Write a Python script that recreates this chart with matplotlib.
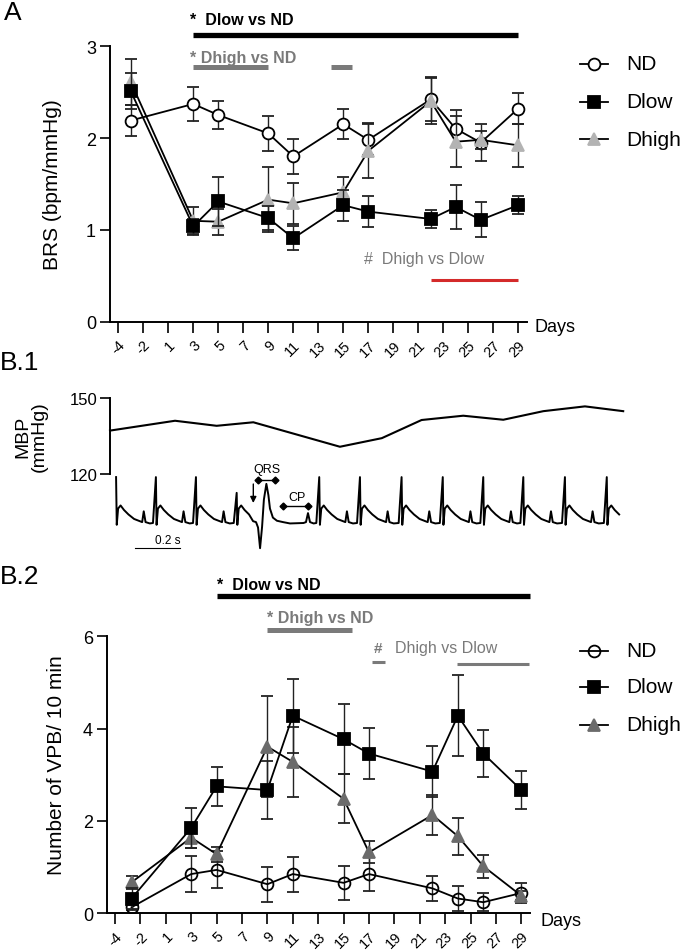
import numpy as np
import matplotlib
matplotlib.use("Agg")
import matplotlib.pyplot as plt

plt.rcParams["font.family"] = ["Liberation Sans", "DejaVu Sans"]

# =========================
# Data
# =========================

TICK_DAYS = [-4, -2, 1, 3, 5, 7, 9, 11, 13, 15, 17, 19, 21, 23, 25, 27, 29]
TICK_LABELS = [str(d) for d in TICK_DAYS]

# Panel A: baroreflex sensitivity
DAYS_A = [-3, 3, 5, 9, 11, 15, 17, 22, 24, 26, 29]
BRS_ND = [2.19, 2.37, 2.25, 2.05, 1.80, 2.15, 1.98, 2.42, 2.10, 1.95, 2.32]
BRS_ND_ERR = [0.17, 0.18, 0.15, 0.19, 0.19, 0.16, 0.17, 0.24, 0.20, 0.20, 0.17]
BRS_DLOW = [2.51, 1.04, 1.31, 1.13, 0.91, 1.27, 1.20, 1.12, 1.25, 1.11, 1.27]
BRS_DLOW_ERR = [0.20, 0.08, 0.27, 0.13, 0.13, 0.17, 0.17, 0.10, 0.24, 0.19, 0.10]
BRS_DHIGH = [2.61, 1.10, 1.09, 1.33, 1.29, 1.41, 1.86, 2.40, 1.96, 1.98, 1.92]
BRS_DHIGH_ERR = [0.25, 0.15, 0.14, 0.35, 0.22, 0.17, 0.30, 0.25, 0.28, 0.10, 0.23]

# Panel B.1: mean blood pressure (s, mmHg) and ECG trace
MBP_T = [0.0, 0.289, 0.474, 0.637, 1.022, 1.208, 1.385, 1.570, 1.748, 1.926, 2.111, 2.281]
MBP_VAL = [137.2, 141.1, 139.1, 140.5, 130.8, 134.2, 141.4, 143.1, 141.5, 144.9, 146.8, 144.9]

R_TIMES = [0.027, 0.204, 0.382, 0.563, 0.930, 1.111, 1.296, 1.479, 1.659, 1.837, 2.022, 2.208]
R_AMPS = [1.0, 1.0, 1.0, 0.65, 1.0, 1.0, 1.0, 1.0, 1.0, 1.0, 1.0, 1.0]
BEAT_OFFSET = [-0.013, 0.0, 0.003, 0.009, 0.020, 0.035, 0.055, 0.080, 0.105, 0.116, 0.123, 0.131, 0.150, 0.170]
BEAT_SHAPE = [-0.02, 1.0, -0.06, 0.30, 0.37, 0.27, 0.17, 0.07, 0.02, 0.0, 0.24, 0.0, -0.03, -0.02]
VPB_T = [0.636, 0.649, 0.658, 0.667, 0.676, 0.684, 0.695, 0.704, 0.711, 0.724, 0.742, 0.769,
         0.800, 0.860, 0.871, 0.880, 0.889, 0.905]
VPB_VAL = [0.02, 0.0, -0.12, -0.58, -0.10, 0.50, 0.85, 0.60, 0.30, 0.10, 0.03, 0.0,
           -0.03, -0.02, 0.0, 0.20, 0.0, -0.03]
ECG_END = 2.281

# Panel B.2: ventricular premature beats
DAYS_B = [-2.7, 3, 5, 9, 11, 15, 17, 22, 24, 26, 29]
VPB_ND = [0.13, 0.85, 0.94, 0.63, 0.85, 0.66, 0.85, 0.54, 0.32, 0.24, 0.44]
VPB_ND_ERR = [0.05, 0.39, 0.40, 0.38, 0.38, 0.37, 0.37, 0.27, 0.27, 0.20, 0.22]
VPB_DLOW = [0.32, 1.85, 2.75, 2.67, 4.28, 3.77, 3.46, 3.07, 4.28, 3.46, 2.67]
VPB_DLOW_ERR = [0.22, 0.44, 0.42, 0.62, 0.80, 0.76, 0.56, 0.56, 0.88, 0.50, 0.42]
VPB_DHIGH = [0.67, 1.64, 1.28, 3.61, 3.28, 2.48, 1.32, 2.13, 1.67, 1.02, 0.38]
VPB_DHIGH_ERR = [0.14, 0.22, 0.16, 1.10, 0.76, 0.53, 0.24, 0.43, 0.40, 0.25, 0.10]

# =========================
# Helpers
# =========================

W, H = 685, 953
GRAY = "#7a7a7a"
LIGHT_TRI = "#b3b3b3"
DARK_TRI = "#6b6b6b"
RED = "#d42a2a"


def px_rect(x0, y_top, x1, y_bot):
    """Axes rectangle from pixel edges (origin top-left)."""
    return [x0 / W, 1 - y_bot / H, (x1 - x0) / W, (y_bot - y_top) / H]


def pos(day):
    """The day axis is categorical: map a day onto the tick index scale."""
    d = np.asarray(day, dtype=float)
    return np.where(d > 29, 16 + (d - 29) / 2, np.interp(d, TICK_DAYS, np.arange(len(TICK_DAYS))))


def style_axes(ax):
    for side in ["top", "right"]:
        ax.spines[side].set_visible(False)
    for side in ["left", "bottom"]:
        ax.spines[side].set_linewidth(1.4)
    ax.tick_params(width=1.2, length=7, labelsize=13, pad=3)
    ax.tick_params(axis="x", length=8, pad=3)
    ax.set_xticks(np.arange(len(TICK_DAYS)))
    ax.set_xticklabels(TICK_LABELS, rotation=45, ha="right", va="top",
                       rotation_mode="anchor", fontsize=10.5)
    ax.patch.set_alpha(0)


def series(ax, days, vals, errs, marker, ms, face, edge, z):
    ax.errorbar(pos(days), vals, yerr=errs, color="k", lw=1.3,
                marker=marker, ms=ms, mfc=face, mec=edge, mew=1.3,
                ecolor="#222222", elinewidth=1.0, capsize=4.5, capthick=1.0,
                zorder=z)


def sig_bar(ax, d0, d1, y, color, lw):
    ax.plot(pos([d0, d1]), [y, y], color=color, lw=lw, solid_capstyle="butt",
            clip_on=False)


def ecg_trace():
    t_all, v_all = [], []
    for i, (r, amp) in enumerate(zip(R_TIMES, R_AMPS)):
        nxt = R_TIMES[i + 1] if i + 1 < len(R_TIMES) else ECG_END + 0.013
        if i == 3:
            nxt = VPB_T[0] + 0.013
        for off, v in zip(BEAT_OFFSET, BEAT_SHAPE):
            if i == 0 and off < 0:
                continue
            if off < nxt - r - 0.013 + 1e-9:
                t_all.append(r + off)
                v_all.append(v * amp if off == 0 else v)
        if i == 3:
            t_all.extend(VPB_T)
            v_all.extend(VPB_VAL)
    return np.array(t_all), np.array(v_all)


# =========================
# Figure
# =========================

fig = plt.figure(figsize=(W / 100, H / 100), dpi=100)

# ---- Panel A ----
ax_a = fig.add_axes(px_rect(110, 47, 527, 323))
style_axes(ax_a)
ax_a.set_xlim(-0.33, 16.35)
ax_a.set_ylim(0, 3)
ax_a.set_yticks([0, 1, 2, 3])
series(ax_a, DAYS_A, BRS_ND, BRS_ND_ERR, "o", 8.5, "white", "k", 3)
series(ax_a, DAYS_A, BRS_DHIGH, BRS_DHIGH_ERR, "^", 9, LIGHT_TRI, LIGHT_TRI, 4)
series(ax_a, DAYS_A, BRS_DLOW, BRS_DLOW_ERR, "s", 8, "k", "k", 5)

ax_a.text(pos(2.7), 3.29, "*  Dlow vs ND", fontsize=11.5, fontweight="bold",
          va="center", ha="left")
sig_bar(ax_a, 3, 29, 3.123, "k", 3.8)
ax_a.text(pos(2.7), 2.88, "* Dhigh vs ND", fontsize=11.5, fontweight="bold",
          color=GRAY, va="center", ha="left")
sig_bar(ax_a, 3, 9, 2.77, GRAY, 3.6)
sig_bar(ax_a, 14, 15.7, 2.77, GRAY, 3.6)
ax_a.text(pos(16.7), 0.685, "#  Dhigh vs Dlow", fontsize=11.5, color=GRAY,
          va="center", ha="left")
sig_bar(ax_a, 22, 29, 0.457, RED, 2.2)

# ---- Panel B.1 ----
ax_mbp = fig.add_axes(px_rect(110, 399.3, 625, 475))
ax_mbp.plot(MBP_T, MBP_VAL, color="k", lw=1.5, clip_on=False)
ax_mbp.set_xlim(0, 2.289)
ax_mbp.set_ylim(120, 150)
ax_mbp.set_yticks([120, 150])
for side in ["top", "right", "bottom"]:
    ax_mbp.spines[side].set_visible(False)
ax_mbp.spines["left"].set_linewidth(1.4)
ax_mbp.tick_params(axis="y", width=1.2, length=7, labelsize=12, pad=2)
ax_mbp.set_xticks([])
ax_mbp.patch.set_alpha(0)

ax_ecg = fig.add_axes(px_rect(110, 470, 625, 560))
ecg_t, ecg_v = ecg_trace()
ax_ecg.plot(ecg_t, ecg_v, color="k", lw=1.4, clip_on=False)
ax_ecg.set_xlim(0, 2.289)
ax_ecg.set_ylim(-0.82, 1.18)
ax_ecg.axis("off")
# 0.2 s scale bar
ax_ecg.plot([0.111, 0.311], [-0.58, -0.58], color="k", lw=0.8, clip_on=False)

# ---- Panel B.2 ----
ax_b = fig.add_axes(px_rect(107, 637.3, 530, 914.3))
style_axes(ax_b)
ax_b.set_xlim(-0.315, 16.34)
ax_b.set_ylim(0, 6)
ax_b.set_yticks([0, 2, 4, 6])
series(ax_b, DAYS_B, VPB_ND, VPB_ND_ERR, "o", 8.5, "none", "k", 3)
series(ax_b, DAYS_B, VPB_DHIGH, VPB_DHIGH_ERR, "^", 9, DARK_TRI, DARK_TRI, 4)
series(ax_b, DAYS_B, VPB_DLOW, VPB_DLOW_ERR, "s", 8, "k", "k", 5)

ax_b.text(pos(5), 7.13, "*  Dlow vs ND", fontsize=11.5, fontweight="bold",
          va="center", ha="left")
sig_bar(ax_b, 5, 29.7, 6.87, "k", 3.8)
ax_b.text(pos(9), 6.41, "* Dhigh vs ND", fontsize=11.5, fontweight="bold",
          color=GRAY, va="center", ha="left")
sig_bar(ax_b, 9, 15.7, 6.14, GRAY, 3.6)
ax_b.text(pos(17.7), 5.74, "#", fontsize=11, fontweight="bold", color=GRAY,
          va="center", ha="center")
ax_b.text(pos(19.06), 5.75, "Dhigh vs Dlow", fontsize=11.5, color=GRAY,
          va="center", ha="left")
sig_bar(ax_b, 17.2, 18.3, 5.44, GRAY, 2.2)
sig_bar(ax_b, 23.9, 29.6, 5.39, GRAY, 2.2)

# ---- Overlay in pixel coordinates for labels, legends and trace notes ----
ov = fig.add_axes([0, 0, 1, 1])
ov.set_xlim(0, W)
ov.set_ylim(H, 0)
ov.axis("off")

ov.text(4, 13, "A", fontsize=19, va="center", ha="left")
ov.text(0, 363, "B.1", fontsize=19, va="center", ha="left")
ov.text(0, 577, "B.2", fontsize=19, va="center", ha="left")

ov.text(53, 185, "BRS (bpm/mmHg)", fontsize=15, rotation=90, va="center", ha="center")
ov.text(57, 765, "Number of VPB/ 10 min", fontsize=15, rotation=90, va="center", ha="center")
ov.text(31, 437, "MBP\n(mmHg)", fontsize=14, rotation=90, va="center", ha="center",
        linespacing=1.0)

ov.text(535, 328, "Days", fontsize=13, va="center", ha="left")
ov.text(541, 922, "Days", fontsize=13, va="center", ha="left")


def legend(y_rows, tri_color, circle_face):
    specs = [("ND", "o", 8.5, circle_face, "k"),
             ("Dlow", "s", 8, "k", "k"),
             ("Dhigh", "^", 9, tri_color, tri_color)]
    for y, (name, mk, ms, fc, ec) in zip(y_rows, specs):
        ov.plot([580, 608], [y, y], color="k", lw=1.3)
        ov.plot([594], [y], marker=mk, ms=ms, mfc=fc, mec=ec, mew=1.3)
        ov.text(626, y, name, fontsize=15, va="center", ha="left")


legend([65, 103, 140], LIGHT_TRI, "white")
legend([652, 688, 726], DARK_TRI, "none")

# ECG annotations
ov.annotate("", xy=(253.3, 504), xytext=(253.3, 485),
            arrowprops=dict(arrowstyle="-|>", color="k", lw=1.0,
                            mutation_scale=9, shrinkA=0, shrinkB=0))
ov.text(266.7, 470, "QRS", fontsize=9, va="center", ha="center")
ov.plot([258.3, 275], [480.7, 480.7], color="k", lw=1.0, marker="D", ms=3.5)
ov.text(296.7, 498, "CP", fontsize=9, va="center", ha="center")
ov.plot([282.7, 308.3], [506.7, 506.7], color="k", lw=1.0, marker="D", ms=3.5)
ov.text(168, 541, "0.2 s", fontsize=8.5, va="center", ha="center")

fig.savefig("out.png", dpi=100)
